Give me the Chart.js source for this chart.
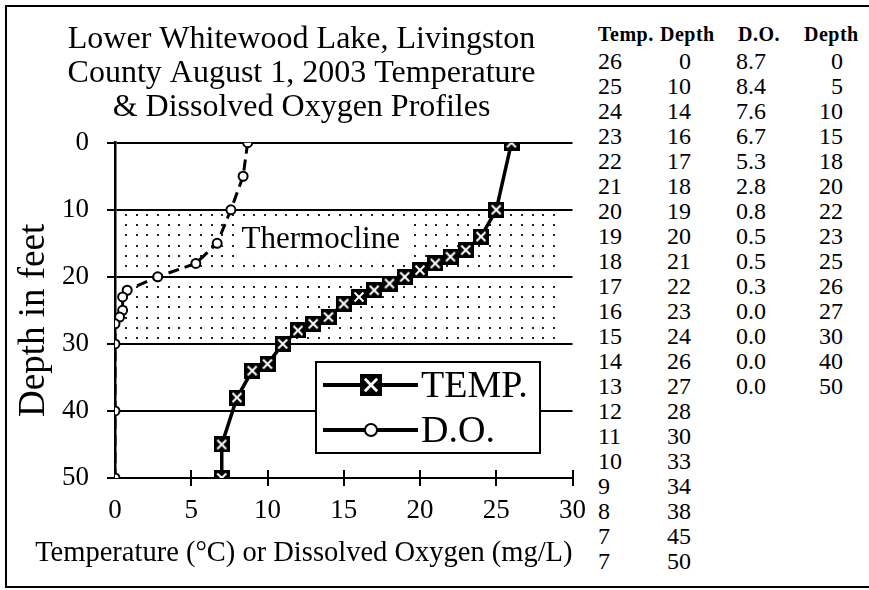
<!DOCTYPE html>
<html>
<head>
<meta charset="utf-8">
<script src="https://cdn.jsdelivr.net/npm/chart.js@4.4.0/dist/chart.umd.min.js"></script>
<style>
  body { margin: 0; background: #fff; }
  #wrap { position: relative; width: 869px; height: 590px; overflow: hidden; font-family: 'Liberation Serif'; }
  #frame { position: absolute; left: 5px; top: 5px; width: 900px; height: 583px; border: 2px solid #000; box-sizing: border-box; }
  #chartBox { position: absolute; left: 0; top: 0; width: 595px; height: 590px; }
  #table span { position: absolute; font-family: 'Liberation Serif'; font-size: 24px; line-height: 24px; white-space: nowrap; color: #000; }
  #table span.hd { font-weight: bold; font-size: 20px; letter-spacing: 0.5px; }
</style>
</head>
<body>
<div id="wrap">
  <div id="frame"></div>
  <div id="chartBox"><canvas id="profile" width="595" height="590"></canvas></div>
  <div id="table"></div>
</div>
<script>
// Lower Whitewood Lake, 1 Aug 2003
var tempC = [26, 25, 24, 23, 22, 21, 20, 19, 18, 17, 16, 15, 14, 13, 12, 11, 10, 9, 8, 7, 7];
var tempDepth = [0, 10, 14, 16, 17, 18, 19, 20, 21, 22, 23, 24, 26, 27, 28, 30, 33, 34, 38, 45, 50];
var doMgL = [8.7, 8.4, 7.6, 6.7, 5.3, 2.8, 0.8, 0.5, 0.5, 0.3, 0.0, 0.0, 0.0, 0.0];
var doDepth = [0, 5, 10, 15, 18, 20, 22, 23, 25, 26, 27, 30, 40, 50];
var xTickVals = [0, 5, 10, 15, 20, 25, 30];
var depthTicks = [0, 10, 20, 30, 40, 50];
var thermocline = [10, 30];
var headers = ['Temp.', 'Depth', 'D.O.', 'Depth'];

var serif = 'Liberation Serif';
Chart.defaults.font.family = serif;
Chart.defaults.color = '#000';

// table on the right
var cols = [
  {vals: tempC, x: 598, align: 'left', fmt: function(v){ return String(v); }},
  {vals: tempDepth, x: 691, align: 'right', fmt: function(v){ return String(v); }},
  {vals: doMgL, x: 736, align: 'left', fmt: function(v){ return v.toFixed(1); }},
  {vals: doDepth, x: 843, align: 'right', fmt: function(v){ return String(v); }}
];
var hdX = [598, 660, 738, 804];
var tbl = document.getElementById('table');
function cell(txt, x, y, align, cls) {
  var s = document.createElement('span');
  s.textContent = txt;
  if (cls) s.className = cls;
  s.style.top = y + 'px';
  if (align == 'right') { s.style.left = (x - 80) + 'px'; s.style.width = '80px'; s.style.textAlign = 'right'; }
  else s.style.left = x + 'px';
  tbl.appendChild(s);
}
headers.forEach(function(h, i){ cell(h, hdX[i], 22, 'left', 'hd'); });
cols.forEach(function(c){
  c.vals.forEach(function(v, i){ cell(c.fmt(v), c.x, 49 + i * 25, c.align); });
});

// black square with white X, like the excel marker
function boxX(size) {
  var c = document.createElement('canvas');
  c.width = c.height = size;
  var g = c.getContext('2d');
  g.fillStyle = '#000';
  g.fillRect(0, 0, size, size);
  g.strokeStyle = '#fff';
  g.lineWidth = Math.max(2, size / 8);
  var m = size * 0.22;
  g.beginPath();
  g.moveTo(m, m); g.lineTo(size - m, size - m);
  g.moveTo(size - m, m); g.lineTo(m, size - m);
  g.stroke();
  return c;
}
var tempMarker = boxX(16);
var legendMarker = boxX(22);

var thermoBand = {
  id: 'thermoBand',
  beforeDatasetsDraw: function(chart) {
    var ctx = chart.ctx, x = chart.scales.x, y = chart.scales.y;
    var top = y.getPixelForValue(thermocline[0]), bot = y.getPixelForValue(thermocline[1]);
    var left = x.getPixelForValue(0), right = x.getPixelForValue(29.3);
    var mid = y.getPixelForValue(20);
    ctx.save();
    ctx.fillStyle = '#222';
    for (var py = top + 4; py < bot - 2; py += 10.3) {
      if (Math.abs(py - mid) < 3) continue;
      for (var px = left + 10; px < right; px += 10.7) ctx.fillRect(Math.round(px), Math.round(py), 2, 2);
    }
    // inner half of x ticks
    ctx.strokeStyle = '#000';
    ctx.lineWidth = 2;
    var b = chart.chartArea.bottom;
    xTickVals.forEach(function(v){
      if (v === 0) return;
      var px = Math.round(x.getPixelForValue(v));
      ctx.beginPath(); ctx.moveTo(px, b - 8); ctx.lineTo(px, b); ctx.stroke();
    });
    // label
    ctx.font = '31px ' + serif;
    var lx = x.getPixelForValue(8.3), ly = y.getPixelForValue(14.5);
    var w = ctx.measureText('Thermocline').width;
    ctx.fillStyle = '#fff';
    ctx.fillRect(lx - 6, ly - 17, w + 12, 34);
    ctx.fillStyle = '#000';
    ctx.textBaseline = 'middle';
    ctx.fillText('Thermocline', lx, ly);
    ctx.restore();
  }
};

var boxLegend = {
  id: 'boxLegend',
  afterDatasetsDraw: function(chart, args, opts) {
    var ctx = chart.ctx;
    var L = opts.left, T = opts.top, W = opts.width, H = opts.height;
    ctx.save();
    ctx.fillStyle = '#fff';
    ctx.fillRect(L, T, W, H);
    ctx.strokeStyle = '#000';
    ctx.lineWidth = 2;
    ctx.strokeRect(L, T, W, H);
    chart.data.datasets.forEach(function(ds, i){
      var cy = T + 23 + i * 45;
      ctx.strokeStyle = '#000';
      ctx.lineWidth = 4;
      ctx.setLineDash([]);
      ctx.beginPath(); ctx.moveTo(L + 7, cy); ctx.lineTo(L + 102, cy); ctx.stroke();
      if (i === 0) {
        ctx.drawImage(legendMarker, L + 55 - 11, cy - 11);
      } else {
        ctx.beginPath(); ctx.arc(L + 55, cy, 6, 0, Math.PI * 2);
        ctx.fillStyle = '#fff'; ctx.fill();
        ctx.lineWidth = 2; ctx.stroke();
      }
      ctx.fillStyle = '#000';
      ctx.font = '38px ' + serif;
      ctx.textBaseline = 'middle';
      ctx.fillText(ds.label, L + 105, cy + 2);
    });
    ctx.restore();
  }
};

// axis titles, placed like the original
var axisTitles = {
  id: 'axisTitles',
  afterDraw: function(chart) {
    var ctx = chart.ctx, a = chart.chartArea;
    ctx.save();
    ctx.fillStyle = '#000';
    ctx.textBaseline = 'middle';
    ctx.font = '28.5px ' + serif;
    ctx.textAlign = 'right';
    ctx.fillText('Temperature (\u00B0C) or Dissolved Oxygen (mg/L)', a.right, 554);
    ctx.translate(34, (a.top + a.bottom) / 2 + 10);
    ctx.rotate(-Math.PI / 2);
    ctx.textAlign = 'center';
    ctx.font = '37px ' + serif;
    ctx.fillText('Depth in feet', 0, 0);
    ctx.restore();
  }
};

var tempPts = tempC.map(function(t, i){ return {x: t, y: tempDepth[i]}; });
var doPts = doMgL.map(function(d, i){ return {x: d, y: doDepth[i]}; });

var ctx = document.getElementById('profile');
var profileChart = new Chart(ctx, {
  type: 'scatter',
  data: {
    datasets: [{
      label: 'TEMP.',
      data: tempPts,
      showLine: true,
      borderColor: '#000',
      borderWidth: 3.5,
      pointStyle: tempMarker,
      pointRadius: 8,
      order: 2
    }, {
      label: 'D.O.',
      data: doPts,
      showLine: true,
      borderColor: '#000',
      borderWidth: 3,
      borderDash: [11, 6],
      pointStyle: 'circle',
      pointRadius: 4.5,
      pointBorderWidth: 2,
      pointBorderColor: '#000',
      pointBackgroundColor: '#fff',
      order: 1
    }]
  },
  options: {
    responsive: false,
    animation: false,
    layout: { padding: { left: 26, right: 18, top: 0, bottom: 0 } },
    plugins: {
      legend: { display: false },
      tooltip: { enabled: false },
      title: {
        display: true,
        text: ['Lower Whitewood Lake, Livingston', 'County August 1, 2003 Temperature', '& Dissolved Oxygen Profiles'],
        color: '#000',
        font: { family: serif, size: 32, weight: 'normal', lineHeight: 1.07 },
        padding: { top: 22, bottom: 18 }
      },
      boxLegend: { left: 316, top: 362, width: 224, height: 91 }
    },
    scales: {
      x: {
        type: 'linear',
        min: 0, max: 30,
        afterBuildTicks: function(s){ s.ticks = xTickVals.map(function(v){ return {value: v}; }); },
        afterFit: function(s){ s.height = 112; },
        ticks: { color: '#000', padding: 9, font: { family: serif, size: 27 } },
        grid: {
          drawOnChartArea: false,
          tickLength: 8,
          lineWidth: 2,
          color: function(c){ return c.tick && c.tick.value === 0 ? 'rgba(0,0,0,0)' : '#000'; }
        },
        border: { color: '#000', width: 2 }
      },
      y: {
        type: 'linear',
        reverse: true,
        min: 0, max: 50,
        afterBuildTicks: function(s){ s.ticks = depthTicks.map(function(v){ return {value: v}; }); },
        afterFit: function(s){ s.width = 89; },
        ticks: { color: '#000', padding: 18, font: { family: serif, size: 27 } },
        grid: { color: '#000', lineWidth: 2, tickLength: 8 },
        border: { color: '#000', width: 2.5 }
      }
    }
  },
  plugins: [thermoBand, boxLegend, axisTitles]
});
</script>
</body>
</html>
